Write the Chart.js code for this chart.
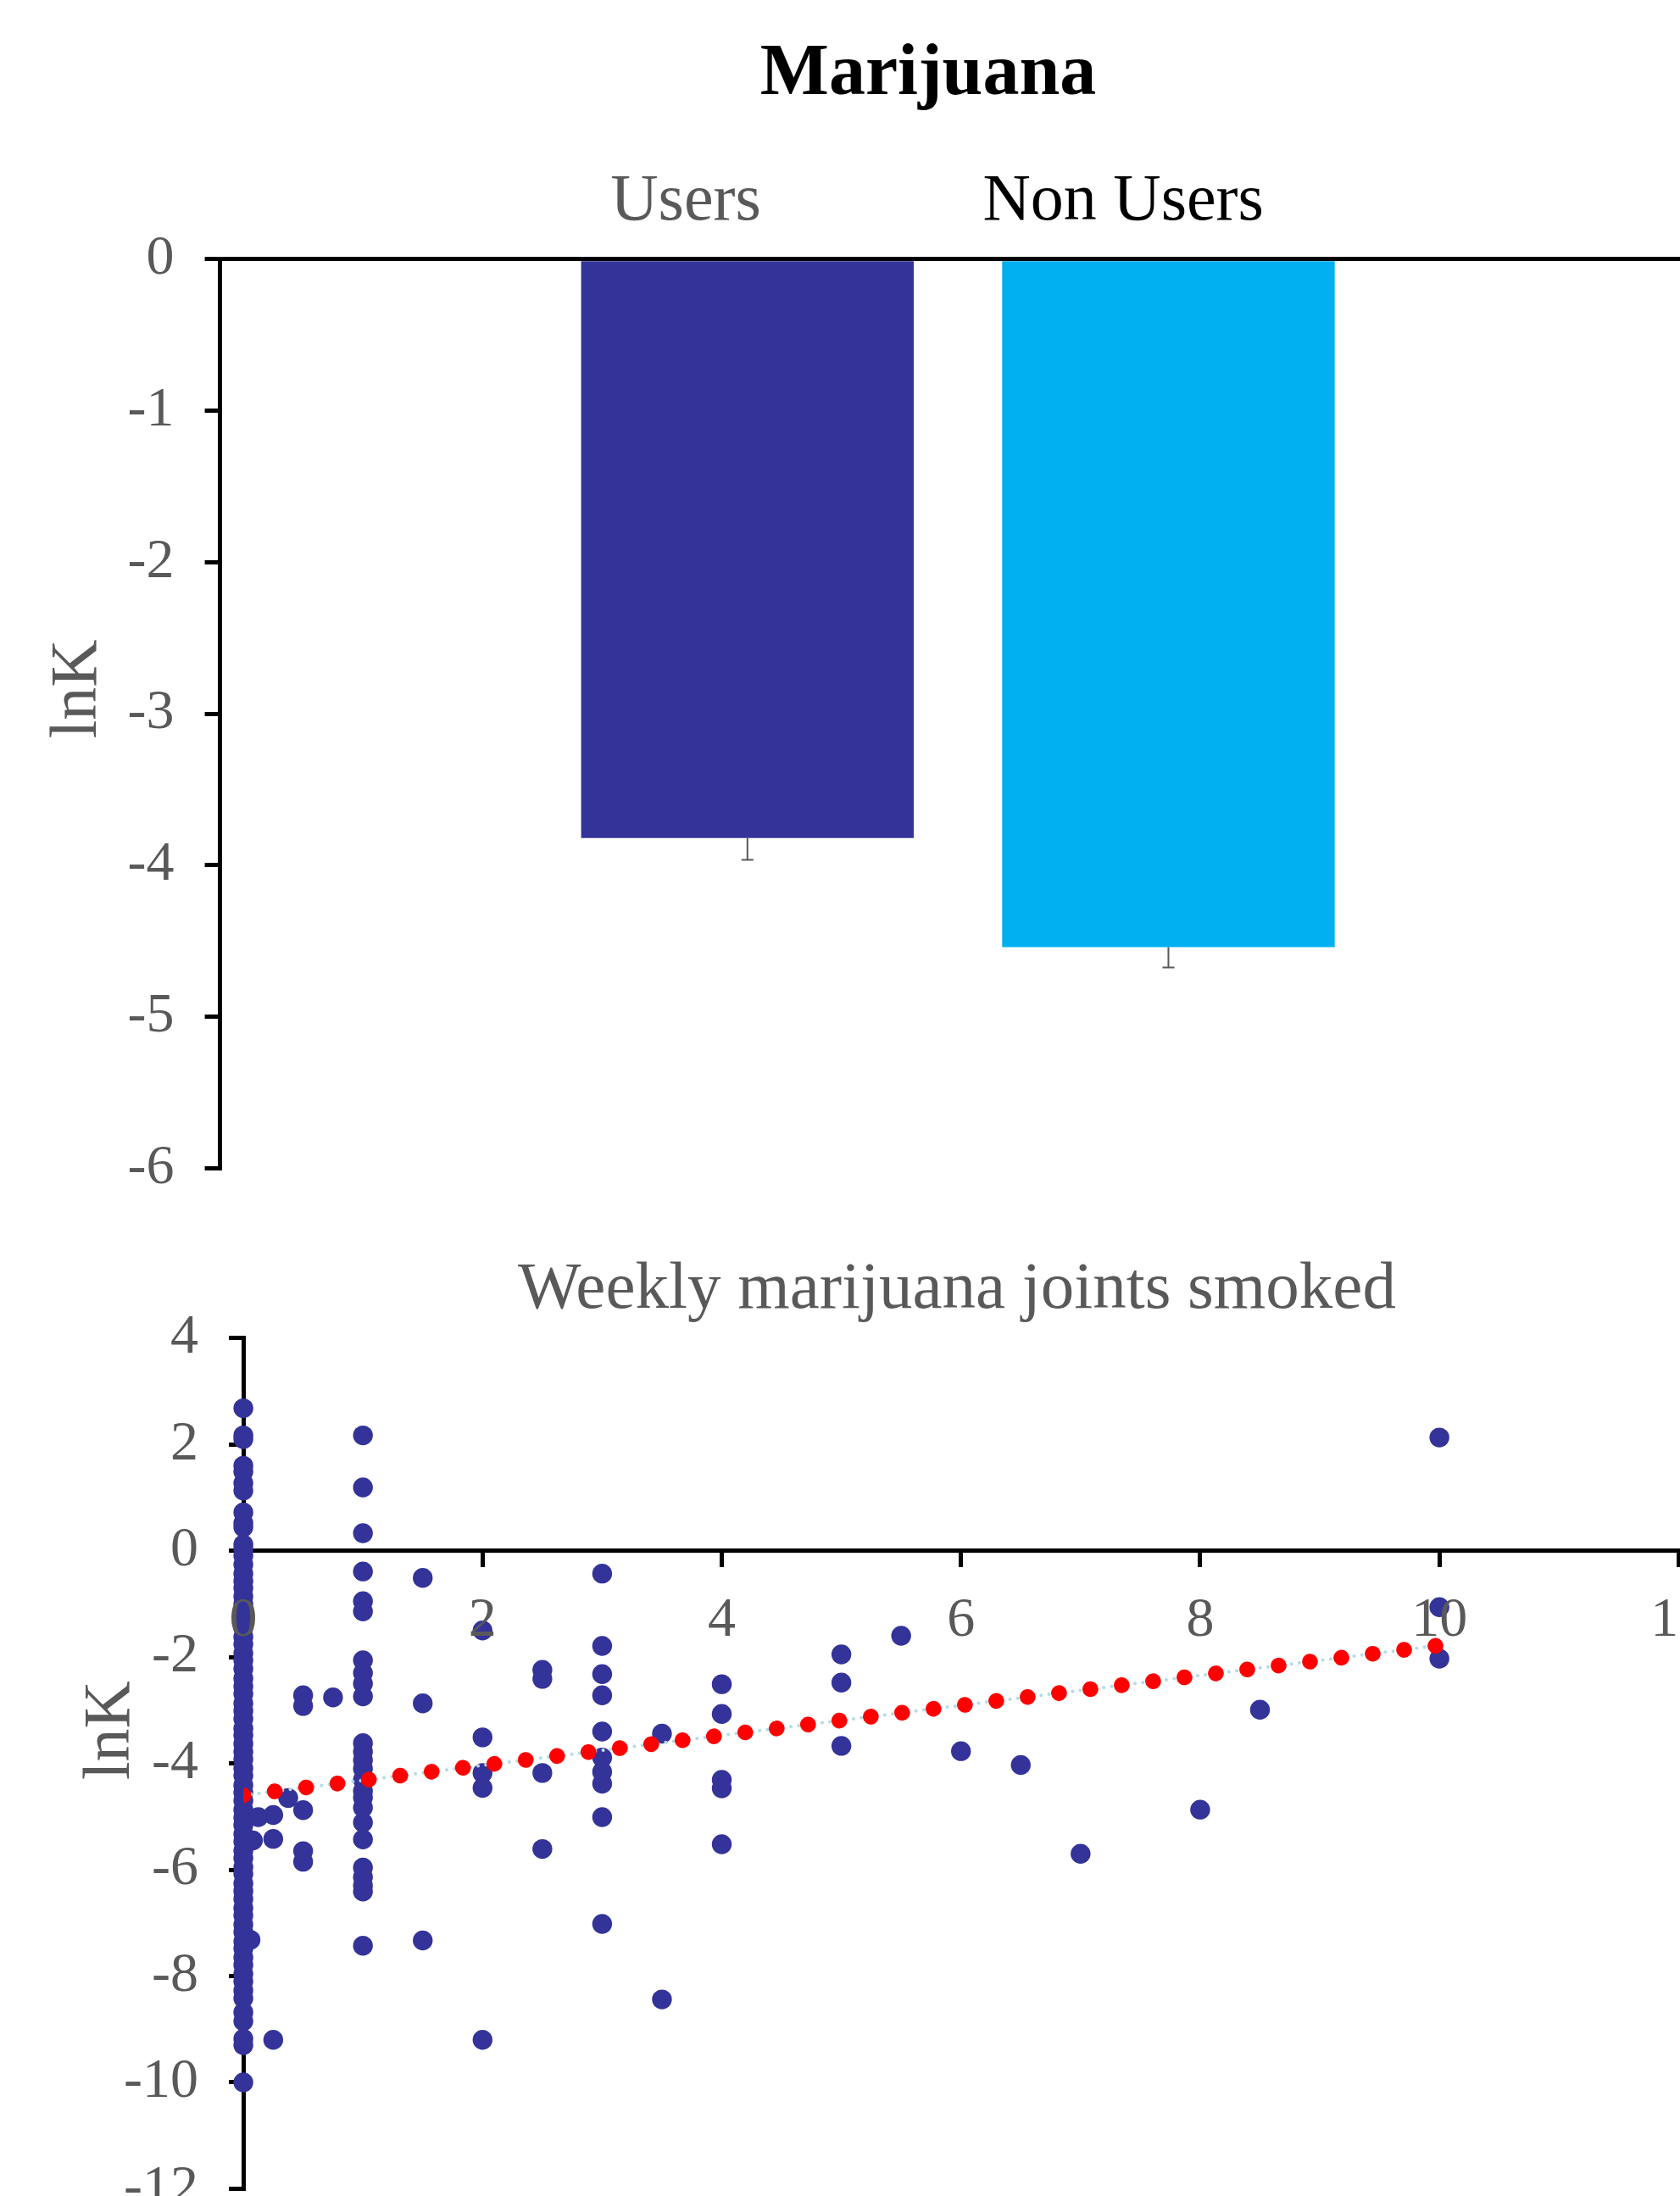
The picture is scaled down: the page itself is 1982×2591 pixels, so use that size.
<!DOCTYPE html>
<html>
<head>
<meta charset="utf-8">
<title>Marijuana</title>
<script src="https://cdn.jsdelivr.net/npm/chart.js@4.4.1/dist/chart.umd.min.js"></script>
<style>
  html, body { margin: 0; padding: 0; background: #ffffff; overflow: hidden; }
  canvas { display: block; }
</style>
</head>
<body>
<canvas id="barChart" width="2190" height="1454"></canvas>
<canvas id="scatterChart" width="2215" height="1204"></canvas>
<script>
// ---- top panel: mean lnK per group (error bar = minus side only)
const groups = ['Users', 'Non Users'];
const meanLnK = [-3.82, -4.54];
const errLnK = [0.145, 0.135];
const barYTicks = [0, -1, -2, -3, -4, -5, -6];

// ---- bottom panel: lnK against weekly joints, one list per x value
const jointsPerWeek = [0, 0.06, 0.08, 0.125, 0.25, 0.375, 0.5, 0.75, 1, 1.5, 2, 2.5, 3, 3.5, 4, 5, 5.5, 6, 6.5, 7, 8, 8.5, 10];
const lnKByJoints = [
  [2.68, 2.17, 2.1, 1.6, 1.49, 1.27, 1.13, 0.72, 0.52, 0.44, 0.12, 0.03, -0.09, -0.26, -0.43, -0.57, -0.7, -0.86,
   -1.0, -1.14, -1.31, -1.45, -1.62, -1.76, -1.93, -2.06, -2.22, -2.4, -2.55, -2.69, -2.87, -3.01, -3.16, -3.34,
   -3.47, -3.63, -3.78, -3.92, -4.09, -4.23, -4.41, -4.55, -4.7, -4.87, -5.02, -5.16, -5.33, -5.47, -5.64, -5.78,
   -5.95, -6.08, -6.26, -6.4, -6.55, -6.72, -6.86, -7.03, -7.17, -7.35, -7.48, -7.65, -7.79, -7.96, -8.1, -8.27,
   -8.42, -8.68, -8.85, -9.18, -9.3, -10.0],
  [-7.32],
  [-5.45],
  [-5.01],
  [-4.97, -5.42, -9.2],
  [-4.65],
  [-2.72, -2.92, -4.88, -5.65, -5.85],
  [-2.76],
  [2.17, 1.19, 0.33, -0.39, -0.95, -1.14, -2.06, -2.3, -2.5, -2.74, -3.62, -3.78, -3.94, -4.1, -4.31, -4.52,
   -4.64, -4.83, -5.11, -5.43, -5.96, -6.14, -6.3, -6.41, -7.43],
  [-0.51, -2.87, -7.33],
  [-1.5, -3.51, -4.18, -4.46, -9.2],
  [-2.24, -2.41, -4.18, -5.61],
  [-0.43, -1.79, -2.32, -2.72, -3.4, -3.89, -4.16, -4.38, -5.01, -7.02],
  [-3.44, -8.44],
  [-2.51, -3.07, -4.31, -4.47, -5.52],
  [-1.95, -2.48, -3.67],
  [-1.6],
  [-3.77],
  [-4.03],
  [-5.7],
  [-4.87],
  [-2.99],
  [2.13, -1.06, -2.03]
];
const trendX = [0, 10];
const trendY = [-4.6, -1.78];
const scatterXTicks = [0, 2, 4, 6, 8, 10, 12];
const scatterYTicks = [4, 2, 0, -2, -4, -6, -8, -10, -12];

const serif = '"Liberation Serif", "Times New Roman", serif';
const grey = '#595959';
const groupColors = ['#333399', '#00B0F0'];
const groupLabelColors = ['#595959', '#000000'];

const errorBars = {
  id: 'errorBars',
  afterDatasetsDraw(chart) {
    const ctx = chart.ctx;
    const y = chart.scales.y;
    const bars = chart.getDatasetMeta(0).data;
    ctx.save();
    ctx.strokeStyle = grey;
    ctx.lineWidth = 2;
    meanLnK.forEach((m, i) => {
      const px = bars[i].x;
      const top = y.getPixelForValue(m);
      const end = y.getPixelForValue(m - errLnK[i]);
      ctx.beginPath();
      ctx.moveTo(px, top);
      ctx.lineTo(px, end);
      ctx.moveTo(px - 7, end);
      ctx.lineTo(px + 7, end);
      ctx.stroke();
    });
    ctx.restore();
  }
};

new Chart(document.getElementById('barChart'), {
  type: 'bar',
  data: {
    datasets: [{
      data: meanLnK.map((v, i) => ({ x: i, y: v })),
      backgroundColor: groupColors,
      categoryPercentage: 0.79,
      barPercentage: 1
    }]
  },
  options: {
    responsive: false,
    animation: false,
    events: [],
    layout: { padding: 0 },
    plugins: {
      legend: { display: false },
      tooltip: { enabled: false },
      title: {
        display: true,
        text: 'Marijuana',
        color: '#000000',
        font: { family: serif, size: 86, weight: 'bold' },
        padding: { top: 37, bottom: 32 }
      }
    },
    scales: {
      x: {
        type: 'linear',
        position: 'top',
        offset: false,
        min: -1.2528,
        max: 2.634,
        afterBuildTicks: s => { s.ticks = groups.map((g, i) => ({ value: i })); },
        ticks: {
          // one space nudges the two labels slightly apart, as in the original
          callback: v => (v === 0 ? groups[v] + ' ' : ' ' + groups[v]),
          color: c => groupLabelColors[c.index],
          font: { family: serif, size: 78 },
          padding: 20,
          labelOffset: -63,
          maxRotation: 0,
          autoSkip: false
        },
        grid: { display: false, drawTicks: false },
        border: { color: '#000000', width: 5 }
      },
      y: {
        min: -6,
        max: 0,
        afterBuildTicks: s => { s.ticks = barYTicks.map(v => ({ value: v })); },
        ticks: { color: grey, font: { family: serif, size: 66 }, padding: 36 },
        grid: { drawOnChartArea: false, tickLength: 18, color: '#000000', lineWidth: 5 },
        border: { color: '#000000', width: 5 },
        title: {
          display: true,
          // leading spaces lift the rotated title a little above the axis centre
          text: '   lnK',
          color: grey,
          font: { family: serif, size: 78 },
          padding: { top: 46, bottom: -25 }
        }
      }
    }
  },
  plugins: [errorBars]
});

const scatterPoints = [];
jointsPerWeek.forEach((j, i) => {
  lnKByJoints[i].forEach(v => scatterPoints.push({ x: j, y: v }));
});
const trendPoints = trendX.map((x, i) => ({ x: x, y: trendY[i] }));

new Chart(document.getElementById('scatterChart'), {
  type: 'scatter',
  data: {
    datasets: [
      {
        type: 'line',
        data: trendPoints,
        borderColor: '#FF0000',
        borderWidth: 18.6,
        borderDash: [0.1, 37.2],
        borderCapStyle: 'round',
        pointRadius: 0,
        fill: false,
        tension: 0,
        clip: 0
      },
      {
        type: 'line',
        data: trendPoints,
        borderColor: '#B4DCE6',
        borderWidth: 4,
        borderDash: [0.1, 9.2],
        borderCapStyle: 'round',
        pointRadius: 0,
        fill: false,
        tension: 0,
        clip: 0
      },
      {
        data: scatterPoints,
        backgroundColor: '#333399',
        borderWidth: 0,
        pointRadius: 11.7,
        clip: false
      }
    ]
  },
  options: {
    responsive: false,
    animation: false,
    events: [],
    layout: { padding: { left: 43 } },
    plugins: {
      legend: { display: false },
      tooltip: { enabled: false },
      title: {
        display: true,
        text: 'Weekly marijuana joints smoked',
        color: grey,
        font: { family: serif, size: 79, weight: 'normal' },
        padding: { top: 21, bottom: 9 }
      }
    },
    scales: {
      x: {
        type: 'linear',
        position: { y: 0 },
        min: 0,
        max: 13.58,
        afterBuildTicks: s => { s.ticks = scatterXTicks.map(v => ({ value: v })); },
        ticks: { color: grey, font: { family: serif, size: 66 }, padding: 26, z: 1, maxRotation: 0, autoSkip: false },
        grid: { drawOnChartArea: false, tickLength: 17, color: '#000000', lineWidth: 5 },
        border: { color: '#000000', width: 5 }
      },
      y: {
        min: -12,
        max: 4,
        afterBuildTicks: s => { s.ticks = scatterYTicks.map(v => ({ value: v })); },
        ticks: { color: grey, font: { family: serif, size: 66 }, padding: 36, autoSkip: false },
        grid: { drawOnChartArea: false, tickLength: 17, color: '#000000', lineWidth: 5 },
        border: { color: '#000000', width: 5 },
        title: {
          display: true,
          text: '    lnK',
          color: grey,
          font: { family: serif, size: 78 },
          padding: { top: 42, bottom: -68.5 }
        }
      }
    }
  }
});
</script>
</body>
</html>
